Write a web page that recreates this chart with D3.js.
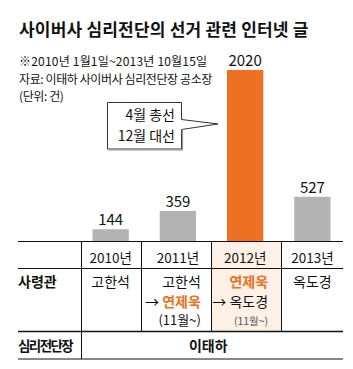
<!DOCTYPE html>
<html>
<head>
<meta charset="utf-8">
<script src="https://cdn.jsdelivr.net/npm/d3@7/dist/d3.min.js"></script>
<style>
  body { margin: 0; background: #fff; }
  text { font-family: "Noto Sans CJK KR", "Noto Sans", sans-serif; fill: #111; }
</style>
</head>
<body>
<svg id="chart" width="353" height="369"></svg>
<script>
// data
const years = ["2010년", "2011년", "2012년", "2013년"];
const posts = [144, 359, 2020, 527];
const commanders = [
  ["고한석"],
  ["고한석", "→ 연제욱", "(11월~)"],
  ["연제욱", "→ 옥도경", "(11월~)"],
  ["옥도경"]
];
const chief = "이태하";
const highlightYear = "2012년";
const highlightName = "연제욱";
const notes = ["※2010년 1월1일~2013년 10월15일", "자료: 이태하 사이버사 심리전단장 공소장", "(단위: 건)"];
const callout = ["4월 총선", "12월 대선"];

const orange = "#ee7023";
const grey = "#b3b3b3";

const svg = d3.select("#chart");

// title + notes
svg.append("text")
  .attr("x", 19).attr("y", 36)
  .style("font-size", "17px").style("font-weight", "bold")
  .style("letter-spacing", "0.2px")
  .text("사이버사 심리전단의 선거 관련 인터넷 글");

svg.selectAll(".note")
  .data(notes)
  .enter().append("text")
  .attr("class", "note")
  .attr("x", 19)
  .attr("y", (d, i) => 66 + i * 17.5)
  .style("font-size", "12px")
  .style("letter-spacing", (d, i) => i === 0 ? "0.2px" : "-0.4px")
  .text(d => d);

// scales
const x = d3.scaleBand()
  .domain(years)
  .range([77, 346])
  .paddingInner(0.46)
  .paddingOuter(0.23);

const y = d3.scaleLinear()
  .domain([0, 2020])
  .range([241.5, 70]);

// table geometry
const tableLeft = 18, tableRight = 343;
const colEdges = [81.5, 141.5, 211.5, 281.5];
const rowLines = [241.5, 268.5, 331.5, 359];

// highlight cell for 2012
const hi = years.indexOf(highlightYear);
svg.append("rect")
  .attr("x", colEdges[hi]).attr("y", rowLines[0])
  .attr("width", colEdges[hi + 1] - colEdges[hi])
  .attr("height", rowLines[2] - rowLines[0])
  .attr("fill", "#fdf0e6");

// bars
svg.selectAll(".bar")
  .data(posts)
  .enter().append("rect")
  .attr("class", "bar")
  .attr("x", (d, i) => x(years[i]))
  .attr("y", d => y(d))
  .attr("width", x.bandwidth())
  .attr("height", d => y(0) - y(d))
  .attr("fill", (d, i) => years[i] === highlightYear ? orange : grey);

svg.selectAll(".val")
  .data(posts)
  .enter().append("text")
  .attr("class", "val")
  .attr("x", (d, i) => x(years[i]) + x.bandwidth() / 2)
  .attr("y", d => y(d) - 4)
  .attr("text-anchor", "middle")
  .style("font-size", "15px")
  .text(d => d);

// callout box
const bx0 = 107.5, bx1 = 181.5, by0 = 102.5, by1 = 149;
const tipX = x(highlightYear) - 9, tipY = 124;
svg.append("path")
  .attr("d", `M${bx0},${by0}H${bx1}V119.5L${tipX},${tipY}L${bx1},129.5V${by1}H${bx0}Z`)
  .attr("fill", "#fff")
  .attr("stroke", "#333")
  .attr("stroke-width", 1);
svg.append("path")
  .attr("d", `M${bx0 + 1},${by1 + 1}H${bx1 + 1}V129.5`)
  .attr("fill", "none").attr("stroke", "#999").attr("stroke-width", 1.2);

svg.selectAll(".callout")
  .data(callout)
  .enter().append("text")
  .attr("class", "callout")
  .attr("x", 175)
  .attr("y", (d, i) => 120 + i * 21)
  .attr("text-anchor", "end")
  .style("font-size", "14px")
  .text(d => d);

// table lines
const lines = svg.append("g").attr("stroke", "#111").attr("stroke-width", 1);
lines.selectAll(".h")
  .data(rowLines)
  .enter().append("line")
  .attr("x1", tableLeft).attr("x2", tableRight)
  .attr("y1", d => d).attr("y2", d => d)
  .attr("stroke-width", (d, i) => i === 2 ? 1.4 : 1);
lines.selectAll(".v")
  .data(colEdges)
  .enter().append("line")
  .attr("x1", d => d).attr("x2", d => d)
  .attr("y1", rowLines[0])
  .attr("y2", (d, i) => i === 0 ? rowLines[3] : rowLines[2]);

// year row
svg.selectAll(".year")
  .data(years)
  .enter().append("text")
  .attr("class", "year")
  .attr("x", d => x(d) + x.bandwidth() / 2)
  .attr("y", 263)
  .attr("text-anchor", "middle")
  .style("font-size", "13.5px")
  .text(d => d);

// row labels
svg.append("text").attr("x", 18).attr("y", 287)
  .style("font-size", "14px").style("font-weight", "bold").text("사령관");
svg.append("text").attr("x", 18).attr("y", 351)
  .style("font-size", "13.5px").style("font-weight", "bold")
  .style("letter-spacing", "-1.6px").text("심리전단장");

// commander cells
commanders.forEach((names, i) => {
  const cx = x(years[i]) + x.bandwidth() / 2;
  const multi = names.length > 1;
  names.forEach((name, j) => {
    const t = svg.append("text")
      .attr("x", multi ? cx + 23 : cx)
      .attr("y", 287 + j * 19.5 - (j === 2 ? 1 : 0))
      .attr("text-anchor", multi ? "end" : "middle")
      .style("font-size", j === 2 ? (years[i] === highlightYear ? "10.5px" : "13px") : "14px");
    if (j === 2 && years[i] === highlightYear) t.style("fill", "#555");
    const arrow = name.startsWith("→ ");
    const body = arrow ? name.slice(2) : name;
    if (arrow) t.append("tspan").text("→ ");
    const s = t.append("tspan").text(body);
    if (body === highlightName) s.style("fill", orange).style("font-weight", "bold");
  });
});

// chief row
svg.append("text")
  .attr("x", (colEdges[0] + tableRight) / 2 - 4)
  .attr("y", 351)
  .attr("text-anchor", "middle")
  .style("font-size", "14px").style("font-weight", "bold")
  .text(chief);
</script>
</body>
</html>
